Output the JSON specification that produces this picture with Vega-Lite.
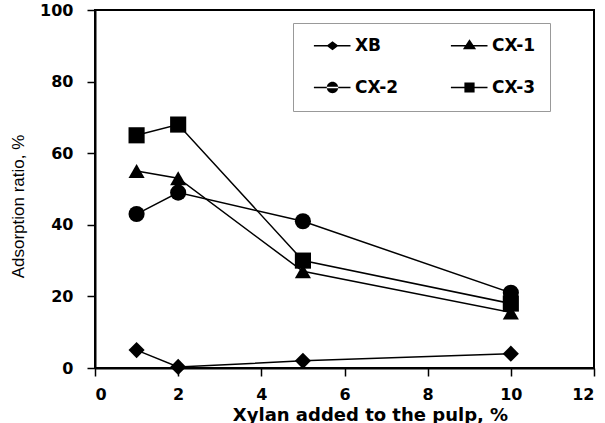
{
  "$schema": "https://vega.github.io/schema/vega-lite/v6.json",
  "autosize": "none",
  "width": 499,
  "height": 358,
  "padding": {"left": 95, "top": 10, "right": 11, "bottom": 55},
  "background": "white",
  "config": {
    "view": {"stroke": "black", "strokeWidth": 2},
    "axis": {
      "grid": false,
      "domainColor": "black",
      "domainWidth": 2,
      "tickColor": "black",
      "tickWidth": 1.5,
      "tickSize": 8,
      "labelFont": "DejaVu Sans",
      "labelFontWeight": "bold",
      "labelFontSize": 16,
      "labelColor": "black",
      "titleColor": "black"
    }
  },
  "data": {
    "values": [
      {"x": 1, "y": 5, "s": "XB"},
      {"x": 2, "y": 0.3, "s": "XB"},
      {"x": 5, "y": 2, "s": "XB"},
      {"x": 10, "y": 4, "s": "XB"},
      {"x": 1, "y": 55, "s": "CX-1"},
      {"x": 2, "y": 53, "s": "CX-1"},
      {"x": 5, "y": 27, "s": "CX-1"},
      {"x": 10, "y": 15.5, "s": "CX-1"},
      {"x": 1, "y": 43, "s": "CX-2"},
      {"x": 2, "y": 49, "s": "CX-2"},
      {"x": 5, "y": 41, "s": "CX-2"},
      {"x": 10, "y": 21, "s": "CX-2"},
      {"x": 1, "y": 65, "s": "CX-3"},
      {"x": 2, "y": 68, "s": "CX-3"},
      {"x": 5, "y": 30, "s": "CX-3"},
      {"x": 10, "y": 18, "s": "CX-3"}
    ]
  },
  "encoding": {
    "x": {
      "field": "x", "type": "quantitative",
      "scale": {"domain": [0, 12], "nice": false},
      "axis": {"values": [0, 2, 4, 6, 8, 10, 12], "labelPadding": 10, "title": "Xylan added  to the pulp, %", "titleFont": "DejaVu Sans", "titleFontWeight": "bold", "titleFontSize": 18, "titlePadding": 4, "titleX": 275}
    },
    "y": {
      "field": "y", "type": "quantitative",
      "scale": {"domain": [0, 100], "nice": false},
      "axis": {"values": [0, 20, 40, 60, 80, 100], "labelPadding": 14, "title": "Adsorption ratio, %", "titleFont": "Liberation Sans", "titleFontWeight": "normal", "titleFontSize": 17, "titlePadding": 12, "titleY": 196}
    }
  },
  "layer": [
    {
      "mark": {"type": "line", "color": "black", "strokeWidth": 1.5},
      "encoding": {"detail": {"field": "s", "type": "nominal"}}
    },
    {
      "mark": {"type": "point", "filled": true, "color": "black", "opacity": 1},
      "encoding": {
        "shape": {
          "field": "s", "type": "nominal",
          "scale": {"domain": ["XB", "CX-1", "CX-2", "CX-3"], "range": ["diamond", "triangle-up", "circle", "square"]},
          "legend": null
        },
        "size": {"value": 260}
      }
    },
    {
      "mark": {"type": "point", "filled": true, "color": "black", "opacity": 1, "size": 0},
      "encoding": {
        "shape": {
          "field": "s", "type": "nominal",
          "scale": {"domain": ["XB", "CX-1", "CX-2", "CX-3"], "range": [
            "M-3.1,-0.13H3V0.13H-3.1ZM-1,0L0,-0.75L1,0L0,0.75Z",
            "M-3.1,-0.13H3V0.13H-3.1ZM-1.1,0.6L0,-1.1L1.1,0.6Z",
            "M-3.1,-0.13H3V0.13H-3.1ZM-0.95,0A0.95,0.95 0 1,0 0.95,0A0.95,0.95 0 1,0 -0.95,0Z",
            "M-3.1,-0.13H3V0.13H-3.1ZM-0.85,-0.85H0.85V0.85H-0.85Z"
          ]},
          "legend": {
            "title": null,
            "orient": "none",
            "legendX": 198,
            "legendY": 13,
            "columns": 2,
            "direction": "horizontal",
            "symbolSize": 144,
            "symbolOffset": 17,
            "symbolFillColor": "black",
            "labelFont": "DejaVu Sans",
            "labelFontWeight": "bold",
            "labelFontSize": 17,
            "labelColor": "black",
            "labelOffset": 14,
            "labelExpr": "(datum.label == 'CX-1' || datum.label == 'CX-3') ? datum.label + '\u00a0\u00a0\u00a0' : datum.label",
            "columnPadding": 45,
            "rowPadding": 24,
            "padding": 14,
            "strokeColor": "#999999",
            "fillColor": "white"
          }
        }
      }
    }
  ],
  "resolve": {"scale": {"shape": "independent"}}
}
